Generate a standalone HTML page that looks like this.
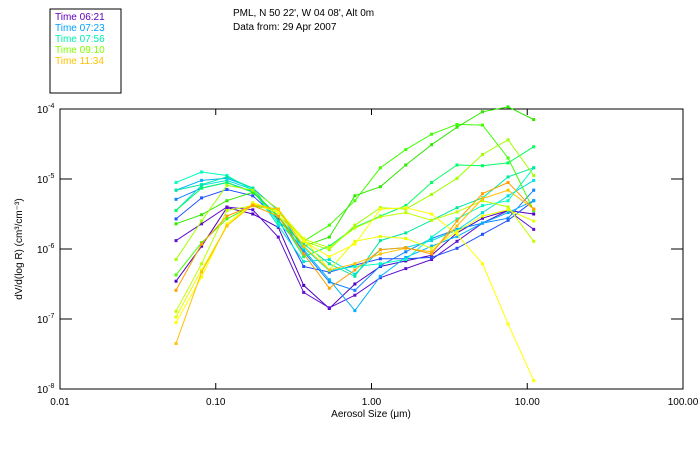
<!DOCTYPE html>
<html><head><meta charset="utf-8"><style>
html,body{margin:0;padding:0;background:#fff;}
svg{display:block;font-family:"Liberation Sans",sans-serif;}
</style></head><body>
<svg id="chart" width="700" height="450" viewBox="0 0 700 450">
<rect x="50" y="9" width="71" height="84" fill="none" stroke="#000" stroke-width="1"/>
<g id="legend" font-size="10"></g>
<text x="233" y="16" font-size="10">PML, N 50 22', W 04 08', Alt 0m</text>
<text x="233" y="30" font-size="10">Data from: 29 Apr 2007</text>
<g id="axes"></g>
<g id="series"></g>
<text x="371" y="417" font-size="10" text-anchor="middle">Aerosol Size (μm)</text>
<text transform="translate(22,249) rotate(-90)" font-size="10" text-anchor="middle">dV/d(log R) (cm³/cm⁻³)</text>
</svg>
<script>
const sizes=[0.0556,0.0811,0.118,0.173,0.252,0.367,0.536,0.782,1.14,1.66,2.43,3.54,5.16,7.53,11.0];
const xTicks=[0.01,0.1,1,10,100];
const xTickLabels=["0.01","0.10","1.00","10.00","100.00"];
const yTicks=[-4,-5,-6,-7,-8];
const legendLabels=["Time 06:21","Time 07:23","Time 07:56","Time 09:10","Time 11:34"];
const legendColors=["#6000c0","#00a0ff","#00f0b0","#80ff00","#ffc000"];
const seriesColors=["#5000c0","#6010d0","#2050ff","#1080ff","#00b0ff","#00e0e0","#00ffc0","#00e8a0","#00ff60","#40ff00","#30e800","#a0ff00","#c0ff00","#e8ff00","#ffff00","#ffc000","#ffa000"];
const s1=[-6.46,-5.96,-5.41,-5.50,-5.69,-6.52,-6.85,-6.50,-6.25,-6.17,-6.09,-5.77,-5.56,-5.45,-5.50];
const s2=[-5.88,-5.64,-5.40,-5.44,-5.83,-6.62,-6.84,-6.66,-6.41,-6.28,-6.15,-5.89,-5.63,-5.45,-5.72];
const s3=[-5.57,-5.27,-5.15,-5.24,-5.57,-6.25,-6.33,-6.23,-6.14,-6.14,-6.12,-5.99,-5.79,-5.59,-5.31];
const s4=[-5.29,-5.13,-5.05,-5.18,-5.53,-6.04,-6.47,-6.59,-6.24,-6.04,-5.85,-5.72,-5.63,-5.56,-5.16];
const s5=[-5.16,-5.02,-4.99,-5.13,-5.45,-6.01,-6.44,-6.88,-6.39,-6.12,-5.96,-5.82,-5.63,-5.48,-5.31];
const s6=[-5.45,-5.09,-5.02,-5.15,-5.67,-6.18,-6.15,-6.36,-6.01,-5.98,-5.88,-5.73,-5.48,-5.24,-5.02];
const s7=[-5.05,-4.90,-4.95,-5.16,-5.63,-5.98,-6.31,-6.25,-6.21,-6.15,-5.83,-5.57,-5.38,-5.31,-4.84];
const s8=[-5.16,-5.08,-4.97,-5.13,-5.60,-5.93,-6.21,-6.39,-5.88,-5.77,-5.59,-5.41,-5.27,-4.97,-4.84];
const s9=[-5.45,-5.13,-5.05,-5.19,-5.53,-6.11,-5.96,-5.69,-5.53,-5.38,-5.05,-4.80,-4.81,-4.77,-4.54];
const s10=[-6.37,-5.91,-5.57,-5.38,-5.45,-5.89,-5.66,-5.31,-4.84,-4.58,-4.36,-4.22,-4.23,-4.70,-5.45];
const s11=[-5.64,-5.51,-5.31,-5.19,-5.54,-5.96,-5.83,-5.24,-5.11,-4.80,-4.51,-4.26,-4.04,-3.97,-4.15];
const s12=[-6.15,-5.60,-5.09,-5.16,-5.43,-5.89,-6.01,-5.66,-5.41,-5.43,-5.22,-4.99,-4.65,-4.44,-4.95];
const s13=[-6.89,-6.21,-5.45,-5.38,-5.53,-5.86,-5.98,-5.70,-5.54,-5.48,-5.59,-5.47,-5.31,-5.40,-5.89];
const s14=[-6.97,-6.30,-5.67,-5.34,-5.45,-5.85,-6.30,-5.89,-5.82,-5.85,-5.99,-5.75,-5.53,-5.44,-5.60];
const s15=[-7.05,-6.40,-5.64,-5.35,-5.48,-5.89,-6.11,-5.93,-5.43,-5.41,-5.50,-5.79,-6.21,-7.07,-7.88];
const s16=[-7.35,-6.33,-5.67,-5.37,-5.43,-5.96,-6.30,-6.21,-6.07,-5.99,-6.04,-5.67,-5.28,-5.16,-5.43];
const s17=[-6.59,-5.93,-5.53,-5.38,-5.53,-6.07,-6.56,-6.30,-6.01,-5.98,-6.07,-5.60,-5.21,-5.05,-5.43];
const allSeries=[s1,s2,s3,s4,s5,s6,s7,s8,s9,s10,s11,s12,s13,s14,s15,s16,s17];

const L=60,R=683,T=109,B=389;
const NS="http://www.w3.org/2000/svg";
function xScale(v){return L+(Math.log10(v)+2)/4*(R-L);}
function yScale(e){return T+(-4-e)/4*(B-T);}
function mk(tag,attrs,parent){const el=document.createElementNS(NS,tag);for(const k in attrs)el.setAttribute(k,attrs[k]);parent.appendChild(el);return el;}

const legend=document.getElementById('legend');
legendLabels.forEach((t,i)=>{
  const el=mk('text',{x:55,y:20+i*11,fill:legendColors[i]},legend);
  
  
  el.textContent=t;
});

const axes=document.getElementById('axes');
const frame=mk('rect',{x:L,y:T,width:R-L,height:B-T,fill:'none',stroke:'#000','stroke-width':1},axes);


xTicks.forEach((v,i)=>{
  const x=xScale(v);
  const t1=mk('line',{x1:x,x2:x,y1:B,y2:B-6,stroke:'#000'},axes);
  
  
  const t2=mk('line',{x1:x,x2:x,y1:T,y2:T+6,stroke:'#000'},axes);
  
  
  const lb=mk('text',{x:x,y:B+16,'font-size':10,'text-anchor':'middle'},axes);
  
  
  lb.textContent=xTickLabels[i];
});
yTicks.forEach(e=>{
  const y=yScale(e);
  const t1=mk('line',{x1:L,x2:L+12,y1:y,y2:y,stroke:'#000'},axes);
  
  
  const t2=mk('line',{x1:R,x2:R-12,y1:y,y2:y,stroke:'#000'},axes);
  
  
  const lb=mk('text',{x:37,y:y+4,'font-size':10},axes);
  
  
  lb.textContent='10';
  const sp=mk('tspan',{dy:-5,'font-size':7},lb);
  sp.textContent=String(e);
});

const sg=document.getElementById('series');
allSeries.forEach((s,i)=>{
  const c=seriesColors[i];
  const pts=s.map((e,j)=>xScale(sizes[j]).toFixed(1)+','+yScale(e).toFixed(1)).join(' ');
  const pl=mk('polyline',{points:pts,fill:'none',stroke:c,'stroke-width':1},sg);
  
  
  s.forEach((e,j)=>{
    const r=mk('rect',{x:xScale(sizes[j])-1.5,y:yScale(e)-1.5,width:3,height:3,fill:c},sg);
    
    
  });
});
</script>
</body></html>
